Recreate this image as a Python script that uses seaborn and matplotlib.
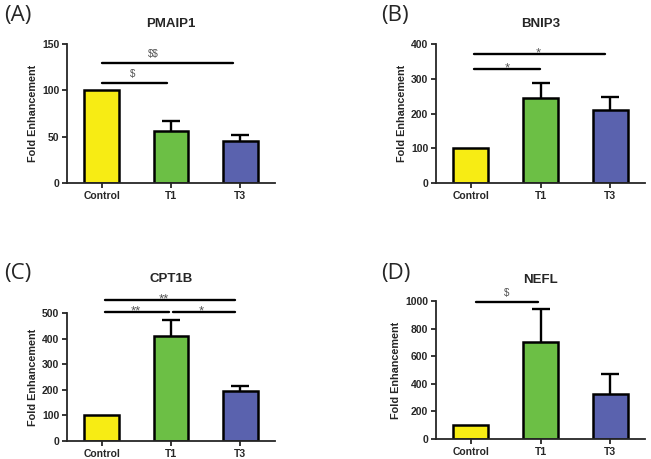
import matplotlib
matplotlib.use("Agg")
import matplotlib.pyplot as plt
import seaborn as sns

# data
groups = ["Control", "T1", "T3"]

pmaip1_mean = [100, 56, 45]
pmaip1_err = [0, 11, 7]

bnip3_mean = [100, 246, 211]
bnip3_err = [0, 42, 37]

cpt1b_mean = [100, 409, 196]
cpt1b_err = [0, 65, 17]

nefl_mean = [100, 704, 325]
nefl_err = [0, 238, 145]

# significance brackets: (x start, x end, y, label, label x)
pmaip1_sig = [(0.0, 0.94, 108, "$", 0.45), (0.0, 1.89, 130, "$$", 0.75)]
bnip3_sig = [(0.05, 0.99, 327, "*", 0.53), (0.05, 1.93, 372, "*", 0.97)]
cpt1b_sig = [(0.05, 0.97, 504, "**", 0.49), (1.03, 1.93, 504, "*", 1.43),
             (0.05, 1.93, 552, "**", 0.9)]
nefl_sig = [(0.07, 0.97, 993, "$", 0.52)]

colors = ["#F7EC14", "#6CBF45", "#5A62AE"]

sns.set_style("ticks")
plt.rcParams["font.family"] = ["Liberation Sans", "DejaVu Sans"]

W, H = 651, 459
fig = plt.figure(figsize=(W / 100, H / 100), dpi=100)


def px_axes(left, top, right, bottom):
    return fig.add_axes([left / W, 1 - bottom / H, (right - left) / W, (bottom - top) / H])


panels = [
    ("(A)", "PMAIP1", pmaip1_mean, pmaip1_err, pmaip1_sig, 150, 50, (67, 44, 275, 183), (4, 16), 24),
    ("(B)", "BNIP3", bnip3_mean, bnip3_err, bnip3_sig, 400, 100, (436, 44, 645, 183), (381, 16), 24),
    ("(C)", "CPT1B", cpt1b_mean, cpt1b_err, cpt1b_sig, 500, 100, (67, 313, 275, 441), (4, 273), 279),
    ("(D)", "NEFL", nefl_mean, nefl_err, nefl_sig, 1000, 200, (436, 301, 645, 439), (381, 273), 280),
]

for letter, title, mean, err, sig, ymax, step, box, lab_xy, title_y in panels:
    ax = px_axes(*box)
    sns.barplot(x=groups, y=mean, hue=groups, palette=colors, legend=False,
                width=0.5, edgecolor="black", linewidth=1.8, saturation=1, ax=ax)
    idx = [i for i, e in enumerate(err) if e > 0]
    eb = ax.errorbar(idx, [mean[i] for i in idx],
                     yerr=[[0] * len(idx), [err[i] for i in idx]], fmt="none",
                     ecolor="black", elinewidth=1.7, capsize=6.8, capthick=1.7)
    # only the upper whisker, as in the original
    eb[1][0].set_visible(False)
    ax.set_xlim(-0.5, 2.5)
    ax.set_ylim(0, ymax)
    ax.set_yticks(range(0, ymax + 1, step))
    sns.despine(ax=ax)
    for s in ["left", "bottom"]:
        ax.spines[s].set_linewidth(1.3)
    ax.tick_params(axis="both", width=1.3, length=3.5, pad=2, labelsize=7.5)
    for t in ax.get_xticklabels() + ax.get_yticklabels():
        t.set_fontweight("bold")
    ax.set_ylabel("Fold Enhancement", fontsize=7.8, fontweight="bold", labelpad=3)

    for x1, x2, y, lab, lx in sig:
        ax.plot([x1, x2], [y, y], color="black", lw=1.7, clip_on=False)
        if "*" in lab:
            fs, off = 9.5, -1.8
        else:
            fs, off = 7, 4.2
        ax.annotate(lab, xy=(lx, y), xytext=(0, off), textcoords="offset points",
                    ha="center", va="baseline", fontsize=fs, color="#555555",
                    annotation_clip=False, parse_math=False)

    cx = (box[0] + box[2]) / 2
    fig.text(cx / W, 1 - title_y / H, title, ha="center", va="center",
             fontsize=9.5, fontweight="bold")
    fig.text(lab_xy[0] / W, 1 - lab_xy[1] / H, letter, ha="left", va="center",
             fontsize=16, family=["Open Sans", "DejaVu Sans"])

fig.savefig("out.png", dpi=100)
